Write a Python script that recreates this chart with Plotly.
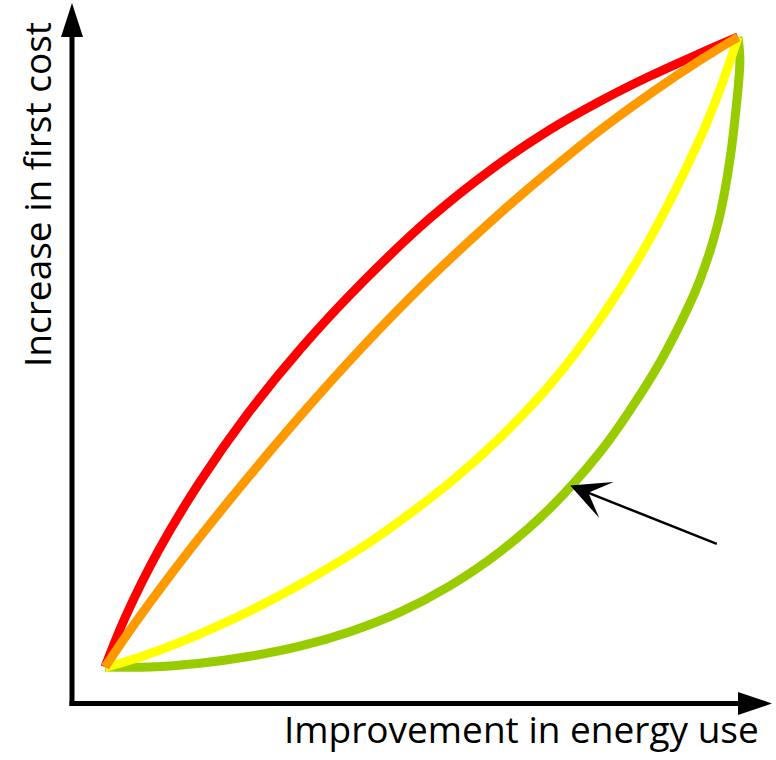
import plotly.graph_objects as go

# Normalised curves: x = improvement in energy use, y = increase in first cost
red_x = [0.0, 0.032, 0.084, 0.150, 0.224, 0.308, 0.408, 0.513, 0.613, 0.703, 0.782, 0.861, 0.940, 1.0]
red_y = [0.0, 0.079, 0.184, 0.294, 0.400, 0.504, 0.612, 0.712, 0.792, 0.853, 0.898, 0.938, 0.974, 1.0]

orange_x = [0.0, 0.052, 0.134, 0.218, 0.308, 0.403, 0.509, 0.624, 0.703, 0.782, 0.861, 0.940, 1.0]
orange_y = [0.0, 0.076, 0.186, 0.291, 0.398, 0.504, 0.613, 0.720, 0.788, 0.852, 0.910, 0.963, 1.0]

yellow_x = [0.0, 0.024, 0.087, 0.202, 0.308, 0.403, 0.466, 0.550, 0.624, 0.703, 0.782, 0.861, 0.940, 0.972, 1.0]
yellow_y = [0.0, 0.006, 0.027, 0.076, 0.131, 0.188, 0.232, 0.297, 0.364, 0.448, 0.552, 0.680, 0.839, 0.918, 1.0]

green_x = [0.0, 0.071, 0.150, 0.229, 0.308, 0.387, 0.466, 0.545, 0.624, 0.703, 0.782,
           0.829, 0.877, 0.924, 0.940, 0.956, 0.972, 0.987, 0.997, 1.003, 1.0]
green_y = [0.0, 0.0, 0.006, 0.017, 0.033, 0.056, 0.087, 0.129, 0.183, 0.252, 0.341,
           0.407, 0.484, 0.577, 0.615, 0.661, 0.720, 0.804, 0.887, 0.963, 1.0]

x_title = "Improvement in energy use"
y_title = "Increase in first cost"

W, H = 776, 760
FONT = "Open Sans"


def px(x):
    return x / W


def py(y):
    return 1 - y / H


fig = go.Figure()

series = [
    (green_x, green_y, "#99CC00"),
    (yellow_x, yellow_y, "#FFFF00"),
    (red_x, red_y, "#FF0000"),
    (orange_x, orange_y, "#FF9900"),
]
for xs, ys, col in series:
    fig.add_trace(go.Scatter(
        x=xs, y=ys, mode="lines",
        line=dict(color=col, width=9, shape="spline", smoothing=1.0),
        hoverinfo="skip", showlegend=False,
    ))

shapes = [
    # vertical axis shaft
    dict(type="line", xref="paper", yref="paper",
         x0=px(72), y0=py(706), x1=px(72), y1=py(34),
         line=dict(color="black", width=5)),
    # horizontal axis shaft
    dict(type="line", xref="paper", yref="paper",
         x0=px(69.5), y0=py(703.5), x1=px(742), y1=py(703.5),
         line=dict(color="black", width=5)),
    # vertical arrow head
    dict(type="path", xref="paper", yref="paper",
         path=f"M {px(72)},{py(3)} L {px(61)},{py(37)} L {px(83)},{py(37)} Z",
         fillcolor="black", line=dict(color="black", width=0)),
    # horizontal arrow head
    dict(type="path", xref="paper", yref="paper",
         path=f"M {px(772)},{py(703.5)} L {px(738)},{py(692)} L {px(738)},{py(715)} Z",
         fillcolor="black", line=dict(color="black", width=0)),
]

annotations = [
    dict(text=x_title, xref="paper", yref="paper", x=px(761), y=py(728),
         xanchor="right", yanchor="middle", showarrow=False,
         font=dict(family=FONT, size=37, color="black")),
    dict(text=y_title, xref="paper", yref="paper", x=px(37), y=py(195),
         xanchor="center", yanchor="middle", showarrow=False, textangle=-90,
         font=dict(family=FONT, size=37, color="black")),
    # pointer to the green curve
    dict(x=0.735, y=0.288, xref="x", yref="y", text="",
         showarrow=True, arrowhead=3, arrowsize=2.6, arrowwidth=2.5,
         arrowcolor="black", ax=148, ay=59, axref="pixel", ayref="pixel",
         standoff=0),
]

fig.update_layout(
    width=W, height=H,
    margin=dict(l=0, r=0, t=0, b=0),
    paper_bgcolor="white", plot_bgcolor="white",
    xaxis=dict(range=[-105 / 633, 671 / 633], visible=False, fixedrange=True),
    yaxis=dict(range=[-93 / 630, 667 / 630], visible=False, fixedrange=True),
    shapes=shapes, annotations=annotations,
)

fig.write_html("out.html")
